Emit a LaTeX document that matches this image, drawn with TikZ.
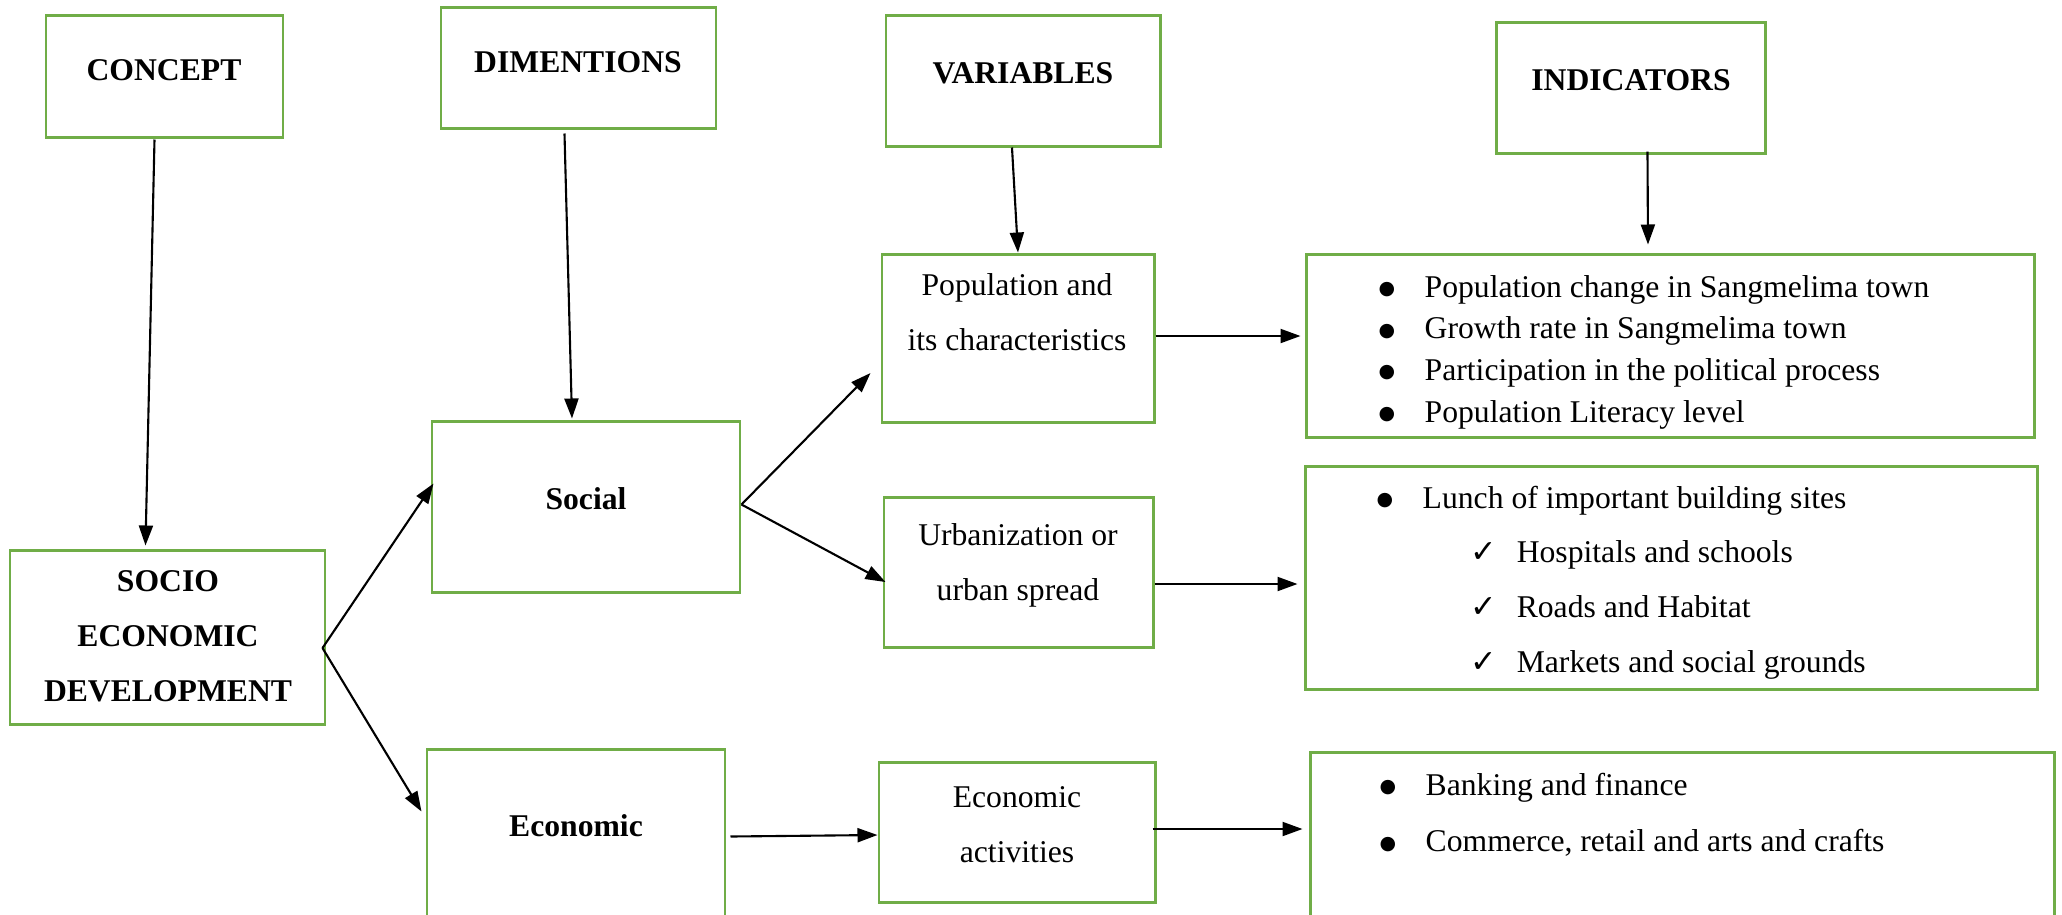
\documentclass[tikz,border=0pt]{standalone}
\usepackage{fontspec}
\setmainfont{Liberation Serif}
\newfontfamily\symfont{DejaVu Sans}
\usetikzlibrary{arrows.meta,fit,calc}
\definecolor{boxgreen}{HTML}{70AD47}
\newcommand{\bul}{\makebox[4.6mm][l]{\raisebox{0.7pt}{\symfont\fontsize{5.4}{6}\selectfont ●}}}
\newcommand{\chk}{\hspace{9.4mm}\makebox[4.6mm][l]{{\symfont\fontsize{9}{9}\selectfont ✓}}}
\tikzset{
  box/.style={draw=boxgreen, line width=0.85pt, inner sep=0pt},
  head/.style={font=\fontsize{9}{15.6}\selectfont\bfseries, align=center, inner sep=0pt},
  lbl/.style={font=\fontsize{9}{15.6}\selectfont, align=center, inner sep=0pt},
  lst/.style={font=\fontsize{9}{10.8}\selectfont, inner sep=0pt, anchor=base west},
  arr/.style={-{Triangle[length=2mm,width=1.4mm]}, line width=0.6pt}
}
\begin{document}
\begin{tikzpicture}[x=0.01cm,y=-0.01cm]
\path[use as bounding box] (0,0) rectangle (2062,914);
\clip (0,0) rectangle (2062,914);

% top row
\node[box, fit={(46,15) (283,137)}] (concept) {};
\node[box, fit={(441,7) (716,128)}] (dimentions) {};
\node[box, fit={(886,15) (1160,146)}] (variables) {};
\node[box, fit={(1496,22) (1765,153)}] (indicators) {};
\node[head] (concepttxt) at (164,70) {CONCEPT};
\node[head] (dimentionstxt) at (578,62) {DIMENTIONS};
\node[head] (variablestxt) at (1023,73) {VARIABLES};
\node[head] (indicatorstxt) at (1631,80) {INDICATORS};

% concept and dimensions
\node[box, fit={(10,550) (325,724)}] (socio) {};
\node[head] (sociotxt) at (168,636) {SOCIO\\ECONOMIC\\DEVELOPMENT};
\node[box, fit={(432,421) (740,592)}] (social) {};
\node[head] (socialtxt) at (586,499) {Social};
\node[box, fit={(427,749) (725,930)}] (economic) {};
\node[head] (economictxt) at (576,826) {Economic};

% variables
\node[box, fit={(882,254) (1154,422)}] (pop) {};
\node[lbl] (poptxt) at (1017,312) {Population and\\its characteristics};
\node[box, fit={(884,497) (1153,647)}] (urban) {};
\node[lbl] (urbantxt) at (1018,565) {Urbanization or\\urban spread};
\node[box, fit={(879,762) (1155,902)}] (econact) {};
\node[lbl] (econacttxt) at (1017,825) {Economic\\activities};

% indicators
\node[box, fit={(1306,254) (2034,437)}] (ind1) {};
\node[lst] (ind1txt) at (1378,297) {\begin{tabular}[t]{@{}l@{}}
\bul Population change in Sangmelima town\\[1.05pt]
\bul Growth rate in Sangmelima town\\[1.05pt]
\bul Participation in the political process\\[1.05pt]
\bul Population Literacy level
\end{tabular}};
\node[box, fit={(1305,466) (2037,689)}] (ind2) {};
\node[lst] (ind2txt) at (1376,508) {\begin{tabular}[t]{@{}l@{}}
\bul Lunch of important building sites\\[4.8pt]
\chk Hospitals and schools\\[4.8pt]
\chk Roads and Habitat\\[4.8pt]
\chk Markets and social grounds
\end{tabular}};
\node[box, fit={(1310,752) (2054,930)}] (ind3) {};
\node[lst] (ind3txt) at (1379,795) {\begin{tabular}[t]{@{}l@{}}
\bul Banking and finance\\[5.4pt]
\bul Commerce, retail and arts and crafts
\end{tabular}};

% connectors
\draw[arr] ($(concept.south)+(-10,1)$) -- ($(socio.north)+(-22,-3)$);
\draw[arr] ($(dimentions.south)+(-14,4)$) -- ($(social.north)+(-14,-1)$);
\draw[arr] ($(variables.south)+(-11,0)$) -- (pop.north);
\draw[arr] ($(indicators.south)+(17,-3)$) -- ($(ind1.north)+(-22,-8)$);
\coordinate (fork1) at ($(socio.east)+(-4,11)$);
\draw[arr] (fork1) -- ($(social.west)+(3,-23)$);
\draw[arr] (fork1) -- ($(economic.west)+(-4,-28)$);
\coordinate (fork2) at ($(social.east)+(0,-2)$);
\draw[arr] (fork2) -- ($(pop.west)+(-10,35)$);
\draw[arr] (fork2) -- ($(urban.west)+(3,10)$);
\draw[arr] ($(pop.east)+(0,-2)$) -- ($(pop.east -| ind1.west)+(-4,-2)$);
\draw[arr] ($(urban.east)+(0,12)$) -- ($(urban.east -| ind2.west)+(-6,12)$);
\draw[arr] ($(economic.east)+(4,-3)$) -- ($(econact.west)+(0,3)$);
\draw[arr] ($(econact.east)+(-4,-3)$) -- ($(econact.east -| ind3.west)+(-6,-3)$);
\end{tikzpicture}
\end{document}
